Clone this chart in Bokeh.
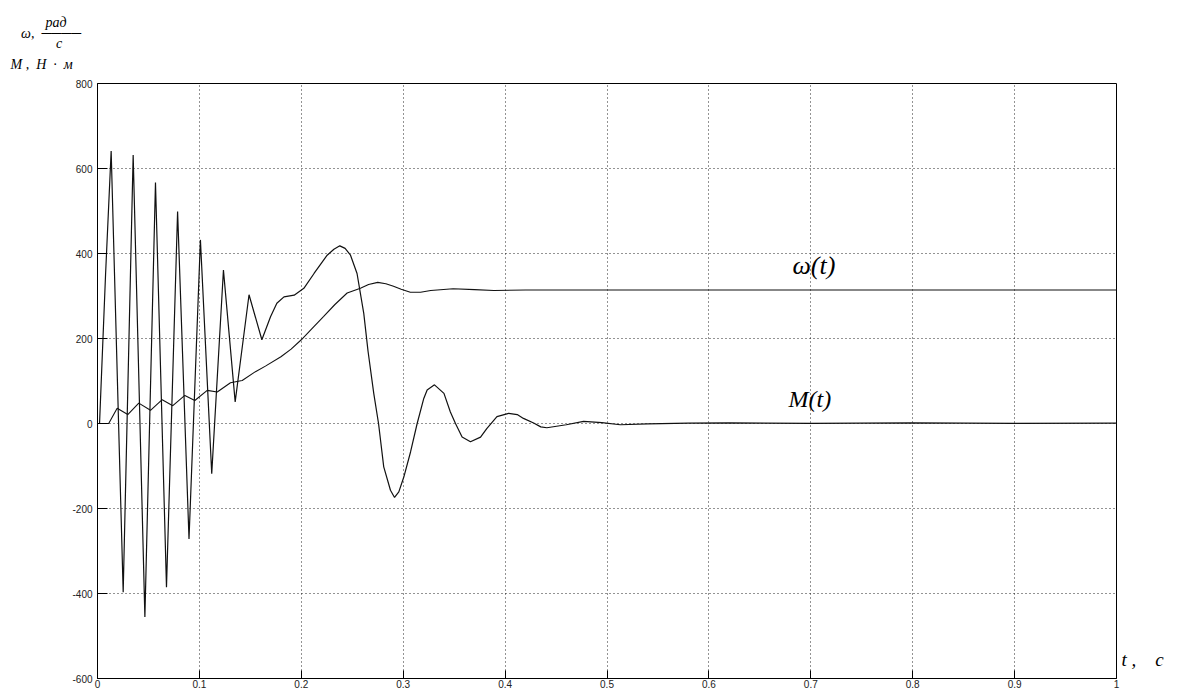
from bokeh.plotting import figure
from bokeh.models import Range1d, FixedTicker, Label, Title, LinearAxis
from bokeh.embed import file_html
from bokeh.resources import INLINE

# ---- data ----
t_M = [0.0, 0.002, 0.0079, 0.0134, 0.0252, 0.035, 0.0465, 0.0569, 0.0677, 0.0786,
       0.0898, 0.101, 0.1121, 0.1236, 0.1351, 0.1487, 0.1613, 0.1698, 0.176, 0.183,
       0.193, 0.2025, 0.2125, 0.2254, 0.232, 0.2378, 0.243, 0.2483, 0.2547, 0.2613,
       0.2655, 0.2711, 0.2758, 0.2809, 0.2875, 0.2915, 0.2957, 0.3006, 0.3072, 0.3137,
       0.3202, 0.3235, 0.3307, 0.34, 0.3463, 0.3513, 0.3578, 0.366, 0.3759, 0.382,
       0.392, 0.4035, 0.4119, 0.418, 0.428, 0.435, 0.441, 0.46, 0.477, 0.495,
       0.513, 0.54, 0.58, 0.62, 0.7, 0.8, 0.9, 1.0]
M_vals = [0, 0, 350, 641, -397, 632, -455, 567, -385, 499,
          -272, 432, -118, 361, 51, 303, 197, 251, 283, 298,
          302, 318, 353, 396, 410, 418, 412, 396, 353, 259,
          170, 71, 0, -102, -157, -174, -161, -126, -67, 0,
          59, 79, 91, 71, 27, 0, -32, -43, -32, -12,
          16, 24, 21, 12, 1, -8, -10, -3, 5, 2,
          -3, -1, 1, 1.5, 0.5, 1.5, 0.5, 1]

t_w = [0.0, 0.011, 0.0193, 0.0297, 0.0405, 0.052, 0.0635, 0.0739, 0.0857, 0.0955,
       0.1077, 0.1175, 0.1305, 0.142, 0.155, 0.1648, 0.18, 0.19, 0.2, 0.21,
       0.222, 0.233, 0.245, 0.258, 0.266, 0.275, 0.283, 0.2905, 0.298, 0.307,
       0.317, 0.327, 0.349, 0.37, 0.389, 0.42, 1.0]
w_vals = [0, 0, 36, 21, 48, 31, 56, 42, 66, 54,
          78, 74, 96, 101, 122, 135, 157, 175, 197, 222,
          252, 280, 307, 318, 327, 332, 329, 323, 316, 309,
          309, 313, 317, 315, 313, 314, 314]

x_ticks = [0, 0.1, 0.2, 0.3, 0.4, 0.5, 0.6, 0.7, 0.8, 0.9, 1.0]
x_tick_labels = ["0", "0.1", "0.2", "0.3", "0.4", "0.5", "0.6", "0.7", "0.8", "0.9", "1"]
y_ticks = [-600, -400, -200, 0, 200, 400, 600, 800]
y_tick_labels = ["-600", "-400", "-200", "0", "200", "400", "600", "800"]

W, H = 1173, 692
FL, FT, FR, FB = 97, 83, 57, 14   # borders
frame_bottom_img = H - FB
NB = "\u00a0"

p = figure(width=W, height=H, output_backend="svg", toolbar_location=None, title=None,
           x_range=Range1d(0, 1), y_range=Range1d(-600, 800),
           min_border_left=FL, min_border_right=FR, min_border_top=FT, min_border_bottom=FB)
p.background_fill_color = "white"
p.border_fill_color = "white"
p.outline_line_color = "black"
p.outline_line_width = 1

p.xaxis.ticker = FixedTicker(ticks=x_ticks)
p.yaxis.ticker = FixedTicker(ticks=y_ticks)
p.xaxis.major_label_overrides = {k: v for k, v in zip(x_ticks, x_tick_labels)}
p.yaxis.major_label_overrides = {k: v for k, v in zip(y_ticks, y_tick_labels)}
for ax in (p.xaxis, p.yaxis):
    ax.major_tick_in = 8
    ax.major_tick_out = 0
    ax.minor_tick_in = 0
    ax.minor_tick_out = 0
    ax.axis_line_color = "black"
    ax.major_tick_line_color = "black"
    ax.major_label_text_font = "Liberation Sans"
    ax.major_label_text_font_size = "10px"
    ax.major_label_text_color = "#222222"
p.yaxis.major_tick_in = 10
p.xaxis.major_label_standoff = 1
p.yaxis.major_label_standoff = 5

for g in (p.xgrid, p.ygrid):
    g.grid_line_color = "black"
    g.grid_line_dash = "1 3"
    g.grid_line_width = 1
    g.grid_line_alpha = 0.85

p.line(t_M, M_vals, line_color="#111111", line_width=1.2)
p.line(t_w, w_vals, line_color="#111111", line_width=1.1)

serif = "Liberation Serif"

# y-axis caption above the plot, top-left
caption = "\n".join([
    NB * 10 + "рад",
    NB * 3 + "ω," + NB * 2 + "────",
    NB * 13 + "с",
    NB,
    "M" + NB + "," + NB * 2 + "Н" + NB * 2 + "·" + NB * 2 + "м",
])
p.add_layout(Title(text=caption, align="left", offset=10 - FL, standoff=23,
                   vertical_align="bottom", text_font=serif, text_font_style="italic",
                   text_font_size="14px", text_line_height=0.7, text_color="black"), "above")

# x-axis caption right of the plot (as a tick label of a bare right axis)
t_cap_pos = [-555]
t_cap_text = ["t" + NB + "," + NB * 4 + "с"]
ax_t = LinearAxis(ticker=FixedTicker(ticks=t_cap_pos),
                  major_label_overrides=dict(zip(t_cap_pos, t_cap_text)),
                  axis_line_color=None, major_tick_line_color=None, minor_tick_line_color=None,
                  major_tick_in=0, major_tick_out=0,
                  major_label_standoff=5, major_label_text_font=serif,
                  major_label_text_font_style="italic", major_label_text_font_size="19px",
                  major_label_text_color="black")
p.add_layout(ax_t, "right")

def lab(x_img, y_img, text, size):
    p.add_layout(Label(x=x_img - FL, y=frame_bottom_img - y_img,
                       x_units="screen", y_units="screen",
                       text=text, text_font=serif, text_font_size=size,
                       text_font_style="italic", text_color="black",
                       text_baseline="alphabetic", text_align="left"))

lab(792, 265, "ω(t)", "26px")
lab(788, 398, "M(t)", "24px")

open("out.html", "w").write(file_html(p, INLINE))
